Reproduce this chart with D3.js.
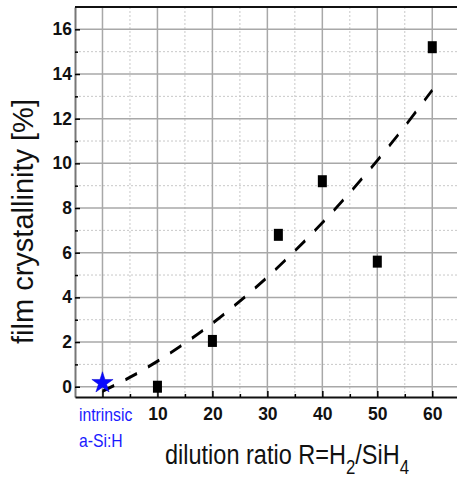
<!DOCTYPE html>
<html>
<head>
<meta charset="utf-8">
<script src="https://cdn.jsdelivr.net/npm/d3@7"></script>
<style>
  html, body { margin: 0; padding: 0; background: #fff; }
  svg { display: block; }
</style>
</head>
<body>
<svg id="chart" width="457" height="477"></svg>
<script>
// Measured samples: crystalline fraction versus hydrogen dilution ratio
const dilutionRatio = [10, 20, 32, 40, 50, 60];
const crystallinity = [0.0, 2.05, 6.8, 9.2, 5.6, 15.2];

// Intrinsic amorphous reference layer
const refRatio = [0];
const refCrystallinity = [0.17];

// Trend (fit) curve samples
const fitRatio = [0, 5, 10, 15, 20, 25, 30, 35, 40, 45, 50, 55, 60];
const fitCrystallinity = [-0.2, 0.42, 1.14, 1.95, 2.84, 3.83, 4.91, 6.08, 7.34, 8.69, 10.13, 11.66, 13.28];

// Axis ticks
const xMajor = [0, 10, 20, 30, 40, 50, 60];
const xMinor = [5, 15, 25, 35, 45, 55];
const xTickLabels = ["10", "20", "30", "40", "50", "60"];
const yMajor = [0, 2, 4, 6, 8, 10, 12, 14, 16];
const yMinor = [1, 3, 5, 7, 9, 11, 13, 15];
const yTickLabels = ["0", "2", "4", "6", "8", "10", "12", "14", "16"];

const svg = d3.select("#chart");
const plotL = 75, plotR = 457, plotT = 7, plotB = 397;

const x = d3.scaleLinear().domain([-5, 64.5]).range([plotL, plotR]);
const y = d3.scaleLinear().domain([-0.46, 17]).range([plotB, plotT]);

const font = "'Liberation Sans', Arial, Helvetica, sans-serif";

// Grid: dotted minor lines, solid major lines
const grid = svg.append("g");
grid.selectAll(".vminor").data(xMinor).join("line")
  .attr("x1", d => x(d)).attr("x2", d => x(d))
  .attr("y1", plotT).attr("y2", plotB)
  .attr("stroke", "#c8c8c8").attr("stroke-width", 1).attr("stroke-dasharray", "2,2");
grid.selectAll(".hminor").data(yMinor).join("line")
  .attr("x1", plotL).attr("x2", plotR)
  .attr("y1", d => y(d)).attr("y2", d => y(d))
  .attr("stroke", "#c8c8c8").attr("stroke-width", 1).attr("stroke-dasharray", "2,2");
grid.selectAll(".vmajor").data(xMajor).join("line")
  .attr("x1", d => x(d)).attr("x2", d => x(d))
  .attr("y1", plotT).attr("y2", plotB)
  .attr("stroke", "#a8a8a8").attr("stroke-width", 1.5);
grid.selectAll(".hmajor").data(yMajor).join("line")
  .attr("x1", plotL).attr("x2", plotR)
  .attr("y1", d => y(d)).attr("y2", d => y(d))
  .attr("stroke", "#a8a8a8").attr("stroke-width", 1.5);

// Axes with inward ticks
const yAxis = d3.axisLeft(y).tickValues(yMajor)
  .tickFormat((d, i) => yTickLabels[i])
  .tickSizeInner(-5).tickSizeOuter(0).tickPadding(3);
const gy = svg.append("g").attr("transform", `translate(${plotL},0)`).call(yAxis);
gy.select(".domain").attr("stroke", "#777").attr("stroke-width", 2);
gy.selectAll(".tick line").attr("stroke", "#000").attr("stroke-width", 1.5);
gy.selectAll("text").attr("font-family", font).attr("font-weight", "bold")
  .attr("font-size", 17.5).attr("fill", "#111");

const gyMinor = svg.append("g").attr("transform", `translate(${plotL},0)`)
  .call(d3.axisLeft(y).tickValues(yMinor).tickFormat("").tickSizeInner(-3).tickSizeOuter(0));
gyMinor.select(".domain").remove();
gyMinor.selectAll(".tick line").attr("stroke", "#000").attr("stroke-width", 1.5);

const xAxis = d3.axisBottom(x).tickValues(xMajor.slice(1))
  .tickFormat((d, i) => xTickLabels[i])
  .tickSizeInner(-6).tickSizeOuter(0).tickPadding(11);
const gx = svg.append("g").attr("transform", `translate(0,${plotB})`).call(xAxis);
gx.select(".domain").attr("stroke", "#111").attr("stroke-width", 2);
gx.selectAll(".tick line").attr("stroke", "#000").attr("stroke-width", 1.5);
gx.selectAll("text").attr("font-family", font).attr("font-weight", "bold")
  .attr("font-size", 17.5).attr("fill", "#111");

const gxMinor = svg.append("g").attr("transform", `translate(0,${plotB})`)
  .call(d3.axisBottom(x).tickValues([0].concat(xMinor)).tickFormat("").tickSizeInner(-3).tickSizeOuter(0));
gxMinor.select(".domain").remove();
gxMinor.selectAll(".tick line").attr("stroke", "#000").attr("stroke-width", 1.5);
gxMinor.selectAll(".tick").filter(d => d === 0).select("line").attr("y2", -6);

// Top frame line
svg.append("line")
  .attr("x1", plotL).attr("x2", plotR)
  .attr("y1", y(17)).attr("y2", y(17))
  .attr("stroke", "#111").attr("stroke-width", 2);

// Label for the reference sample under the x axis
const refLabel = svg.append("text")
  .attr("transform", `translate(${plotL + 4},0) scale(0.9,1)`)
  .attr("font-family", font).attr("font-size", 17.5).attr("fill", "#1a1aff");
refLabel.append("tspan").attr("x", 0).attr("y", 421).text("intrinsic");
refLabel.append("tspan").attr("x", 0).attr("y", 447).text("a-Si:H");

// Dashed trend curve (drawn in a vertically stretched frame)
const k = 4 / 3;
const fitData = fitRatio.map((r, i) => [r, fitCrystallinity[i]]);
const fitLine = d3.line()
  .x(d => x(d[0]))
  .y(d => y(d[1]) / k)
  .curve(d3.curveCatmullRom);
svg.append("g").attr("transform", `scale(1,${k})`)
  .append("path")
  .datum(fitData)
  .attr("d", fitLine)
  .attr("fill", "none")
  .attr("stroke", "#000")
  .attr("stroke-width", 2.4)
  .attr("stroke-dasharray", "12.5,12");

// Measured points
const pts = dilutionRatio.map((r, i) => [r, crystallinity[i]]);
svg.append("g").selectAll("rect").data(pts).join("rect")
  .attr("x", d => x(d[0]) - 4.5)
  .attr("y", d => y(d[1]) - 6)
  .attr("width", 9).attr("height", 12)
  .attr("fill", "#000");

// Reference star
const refPts = refRatio.map((r, i) => [r, refCrystallinity[i]]);
svg.append("g").selectAll("path").data(refPts).join("path")
  .attr("transform", d => `translate(${x(d[0])},${y(d[1])})`)
  .attr("d", d3.symbol().type(d3.symbolStar).size(140))
  .attr("fill", "#0a0aff")
  .attr("stroke", "#0000cc").attr("stroke-width", 0.5);

// Axis titles
svg.append("text")
  .attr("transform", `translate(33,${(98 + 345) / 2}) rotate(-90)`)
  .attr("text-anchor", "middle")
  .attr("font-family", font).attr("font-size", 29).attr("fill", "#111")
  .text("film crystallinity [%]");

const xt = svg.append("text")
  .attr("transform", `translate(165,464) scale(0.84,1)`)
  .attr("font-family", font).attr("font-size", 28).attr("fill", "#111");
xt.append("tspan").text("dilution ratio R=H");
xt.append("tspan").attr("font-size", 20).attr("dy", 10).text("2");
xt.append("tspan").attr("dy", -10).text("/SiH");
xt.append("tspan").attr("font-size", 20).attr("dy", 10).text("4");
</script>
</body>
</html>
